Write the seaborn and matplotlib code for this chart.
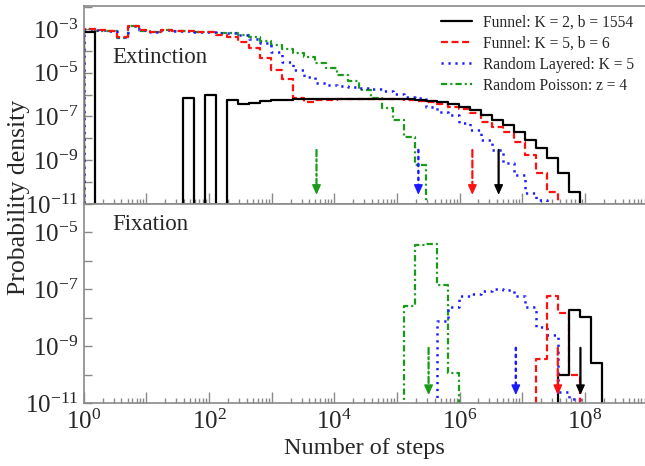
import numpy as np
import pandas as pd
import matplotlib
matplotlib.use("Agg")
import matplotlib.pyplot as plt
from matplotlib.lines import Line2D
from matplotlib.ticker import FixedLocator, FuncFormatter, LogLocator, NullFormatter
import seaborn as sns

# ---------------- data ----------------
# Histogram bins are geometric with ratio 1.5: bin k = [1.5**k, 1.5**(k+1)) steps.
BIN_RATIO = 1.5
N_BINS = 52

series_names = ["Funnel: K = 2, b = 1554", "Funnel: K = 5, b = 6",
                "Random Layered: K = 5", "Random Poisson: z = 4"]

# log10(probability density) per bin, starting at bin index *_start; None = empty bin
ext_k2_start = 0
ext_k2_logd = [-3.12, None, None, None, None, None, None, None, None, -6.14, None, -6.03, None,
               -6.24, -6.44, -6.39, -6.29, -6.24, -6.24, -6.22, -6.21, -6.21, -6.2, -6.2, -6.2,
               -6.2, -6.2, -6.2, -6.21, -6.22, -6.24, -6.28, -6.33, -6.42, -6.55, -6.72, -6.92,
               -7.15, -7.4, -7.72, -8.07, -8.45, -8.9, -9.59, -10.43]
ext_k5_start = 0
ext_k5_logd = [-3.02, -3.06, -3.10, -3.35, -2.86, -3.06, -3.13, -3.05, -3.07, -3.10, -3.12, -3.15,
               -3.27, -3.38, -3.58, -3.88, -4.34, -4.87, -5.30, -6.16, -6.32, -6.24, -6.24, -6.22,
               -6.22, -6.2, -6.2, -6.2, -6.22, -6.24, -6.28, -6.35, -6.45, -6.55, -6.68, -6.85,
               -7.23, -7.46, -7.73, -8.15, -8.75, -9.59, -10.45]
ext_layered_start = 0
ext_layered_logd = [-3.02, -3.06, -3.10, -3.35, -2.86, -3.06, -3.13, -3.05, -3.07, -3.10, -3.12,
                    -3.15, -3.18, -3.2, -3.27, -3.47, -3.65, -4.04, -4.49, -4.87, -5.18, -5.48,
                    -5.56, -5.6, -5.66, -5.71, -5.75, -5.82, -5.95, -6.09, -6.16, -6.55, -6.78,
                    -6.93, -7.3, -7.6, -8.07, -8.52, -9.13, -9.67, -10.5, -10.8]
ext_poisson_start = 0
ext_poisson_logd = [-3.02, -3.07, -3.10, -3.42, -2.86, -3.07, -3.13, -3.05, -3.08, -3.10, -3.12,
                    -3.14, -3.17, -3.2, -3.27, -3.35, -3.55, -3.75, -3.92, -4.08, -4.26, -4.56,
                    -4.79, -5.1, -5.37, -5.79, -6.16, -6.62, -7.16, -7.92, -9.21]

fix_k2_start = 43
fix_k2_logd = [-10.01, -7.72, -7.98, -9.6]
fix_k5_start = 41
fix_k5_logd = [-9.46, -7.25, -7.83, -10.01]
fix_layered_start = 32
fix_layered_logd = [-8.13, -7.62, -7.25, -7.16, -7.07, -6.99, -7.04, -7.23, -7.62, -8.33, -8.6,
                    -10.6, -10.85]
fix_poisson_start = 29
fix_poisson_logd = [-7.6, -5.43, -5.41, -6.84, -9.95]

# mean number of steps (arrows)
ext_means = [4.2e6, 1.6e6, 2.2e5, 5.2e3]
fix_means = [8.5e7, 3.7e7, 7.9e6, 3.2e5]

# ---------------- styling ----------------
sns.set_style("ticks")
plt.rcParams["font.family"] = ["Liberation Serif", "DejaVu Serif"]
plt.rcParams["mathtext.fontset"] = "custom"
plt.rcParams["mathtext.rm"] = "Liberation Serif"
plt.rcParams["mathtext.it"] = "Liberation Serif:italic"
plt.rcParams["mathtext.bf"] = "Liberation Serif:bold"
plt.rcParams["axes.unicode_minus"] = False
plt.rcParams["lines.scale_dashes"] = False

colors = ["#000000", "#ff1010", "#1a1aff", "#1a9a1a"]
styles = ["-", (0, (5.0, 2.6)), (0, (1.6, 3.4)), (0, (4.5, 2.2, 1.5, 2.2))]
lws = [1.6, 1.6, 1.8, 1.6]
spine_col = "#8a8a8a"

# ---------------- build tidy table ----------------
log_step = np.log10(BIN_RATIO)
edges_log = [float(e) for e in np.arange(-1, N_BINS + 1) * log_step]  # includes empty bin below 1

def to_rows(panel, name, start, logd):
    rows = []
    for i, v in enumerate(logd):
        if v is None:
            continue
        k = start + i
        rows.append({"panel": panel, "series": name,
                     "steps": 10 ** ((k + 0.5) * log_step),
                     "density": 10 ** v})
    return rows

rows = []
for name, st, ld in zip(series_names,
                        [ext_k2_start, ext_k5_start, ext_layered_start, ext_poisson_start],
                        [ext_k2_logd, ext_k5_logd, ext_layered_logd, ext_poisson_logd]):
    rows += to_rows("Extinction", name, st, ld)
for name, st, ld in zip(series_names,
                        [fix_k2_start, fix_k5_start, fix_layered_start, fix_poisson_start],
                        [fix_k2_logd, fix_k5_logd, fix_layered_logd, fix_poisson_logd]):
    rows += to_rows("Fixation", name, st, ld)
df = pd.DataFrame(rows)

# ---------------- figure ----------------
fig = plt.figure(figsize=(6.45, 4.66), dpi=100)
ax1 = fig.add_axes([0.1298, 0.5622, 0.8702, 0.4249])
ax2 = fig.add_axes([0.1298, 0.1352, 0.8702, 0.4270])

XMAX = 10 ** 8.96
panels = [(ax1, "Extinction", ext_means, (1e-11, 10 ** -1.95), (-8.53, -10.58)),
          (ax2, "Fixation", fix_means, (1e-11, 1e-4), (-9.06, -10.72))]

for ax, pname, means, ylim, arr in panels:
    for i in [3, 2, 1, 0]:
        sub = df[(df.panel == pname) & (df.series == series_names[i])]
        sns.histplot(data=sub, x="steps", weights="density", bins=edges_log,
                     element="step", fill=False, log_scale=(True, True), ax=ax,
                     color=colors[i], linestyle=styles[i], linewidth=lws[i])
    ax.set_yscale("log", nonpositive="clip")
    ax.set_xscale("log", nonpositive="clip")
    # mean arrows: styled shaft + solid filled head
    for i in range(4):
        ax.annotate("", xy=(means[i], 10 ** arr[1]), xytext=(means[i], 10 ** arr[0]),
                    arrowprops=dict(arrowstyle="-", color=colors[i], lw=lws[i],
                                    linestyle=styles[i], shrinkA=0, shrinkB=4))
        ax.annotate("", xy=(means[i], 10 ** arr[1]), xytext=(0, 6.5),
                    textcoords="offset points",
                    arrowprops=dict(arrowstyle="-|>,head_length=0.6,head_width=0.27",
                                    color=colors[i], lw=1.0, linestyle="-",
                                    shrinkA=0, shrinkB=0, mutation_scale=10))
    ax.set_xlim(1, XMAX)
    ax.set_ylim(*ylim)
    ax.set_xlabel("")
    ax.set_ylabel("")

    lo, hi = int(np.round(np.log10(ylim[0]))), int(np.floor(np.log10(ylim[1])))
    ax.yaxis.set_major_locator(FixedLocator([10.0 ** e for e in range(lo, hi + 1)]))
    ax.yaxis.set_minor_locator(FixedLocator([]))
    ax.yaxis.set_major_formatter(FuncFormatter(
        lambda v, p: (r"$\mathdefault{10^{%d}}$" % int(np.round(np.log10(v))))
        if int(np.round(np.log10(v))) % 2 != 0 else ""))
    ax.xaxis.set_major_locator(LogLocator(base=10, numticks=30))
    ax.xaxis.set_minor_locator(LogLocator(base=10, subs=np.arange(2, 10), numticks=30))
    ax.xaxis.set_minor_formatter(NullFormatter())
    ax.xaxis.set_major_formatter(FuncFormatter(
        lambda v, p: (r"$\mathdefault{10^{%d}}$" % int(np.round(np.log10(v))))
        if int(np.round(np.log10(v))) % 2 == 0 else ""))

    ax.tick_params(axis="both", which="both", direction="in", color=spine_col,
                   labelsize=18, top=False, right=False)
    ax.tick_params(axis="y", which="major", length=5.5, width=1.0, pad=4)
    ax.tick_params(axis="x", which="major", length=8, width=1.0, pad=5)
    ax.tick_params(axis="x", which="minor", length=3.8, width=1.0)
    for s in ["left", "top", "bottom"]:
        ax.spines[s].set_color(spine_col)
        ax.spines[s].set_linewidth(1.2)
    ax.spines["right"].set_visible(False)
    ax.text(0.0504, 0.71 if pname == "Extinction" else 0.869, pname,
            transform=ax.transAxes, fontsize=16.5, ha="left", va="baseline")

ax1.tick_params(axis="x", labelbottom=False)
ax2.set_xlabel("Number of steps", fontsize=17.5, labelpad=3)
fig.text(0.029, 1 - 197 / 466, "Probability density", rotation=90, fontsize=18.5,
         ha="center", va="center")

handles = [Line2D([], [], color=colors[i], linestyle=styles[i], linewidth=lws[i])
           for i in range(4)]
ax1.legend(handles, series_names, loc="upper right", frameon=False, fontsize=11.2,
           handlelength=2.0, handletextpad=0.7, labelspacing=0.32,
           borderaxespad=0.15, bbox_to_anchor=(0.995, 1.0))

fig.savefig("out.png", dpi=100)
